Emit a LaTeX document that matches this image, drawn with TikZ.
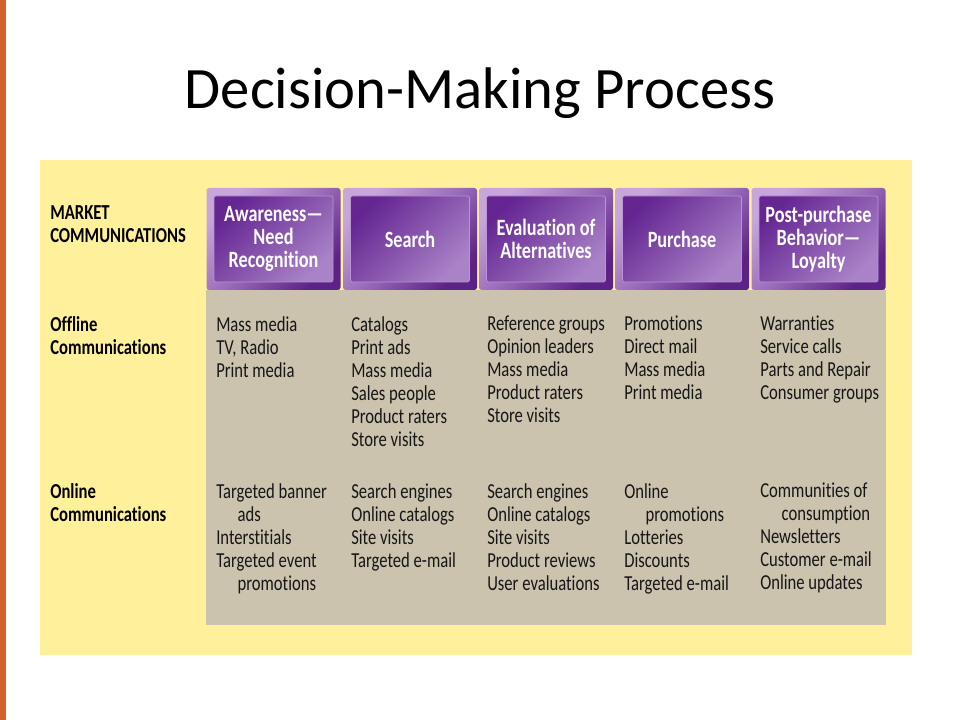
\documentclass[tikz,border=0pt]{standalone}
\usepackage{fontspec}
\setmainfont{Carlito}
\newfontfamily\condfont[FakeStretch=0.78,Ligatures=NoCommon]{Carlito}
\definecolor{slideorange}{HTML}{D5622A}
\definecolor{panelyellow}{HTML}{FFF19B}
\definecolor{panelgrey}{HTML}{CBC3AE}
\definecolor{stagelight}{HTML}{C7A6DC}
\definecolor{stagemid}{HTML}{9A6CBA}
\definecolor{stagedark}{HTML}{5C2285}
\definecolor{stagedeep}{HTML}{652692}
\definecolor{stagesoft}{HTML}{A982C7}
\definecolor{stageedge}{HTML}{B894D2}
\definecolor{textblack}{HTML}{161616}
\newdimen\px \px=0.75pt

\begin{document}
\begin{tikzpicture}[x=0.75pt,y=-0.75pt,
    stageframe/.style={rounded corners=2pt, inner sep=0, minimum width=134\px, minimum height=102\px,
      top color=stagelight, bottom color=stagedark, middle color=stagemid, shading angle=45},
    stagebox/.style={rounded corners=1.5pt, draw=stageedge, line width=0.5pt, inner sep=0,
      minimum width=119\px, minimum height=86\px, top color=stagedeep, bottom color=stagesoft, shading angle=45,
      text=white, align=center, font=\condfont\bfseries\fontsize{17.5}{17.25}\selectfont},
    rowhead/.style={anchor=north west, inner sep=0, align=left, text=black,
      font=\condfont\bfseries\fontsize{16}{17.25}\selectfont, execute at begin node=\strut},
    item/.style={anchor=north west, inner sep=0, align=left, text=textblack,
      font=\condfont\fontsize{16}{17.25}\selectfont, execute at begin node=\strut}]
        \useasboundingbox (0,0) rectangle (960,720);
        \fill[white] (0,0) rectangle (960,720);
        \fill[slideorange] (0,0) rectangle (6,720);
        %title
        \node[anchor=base, font=\fontsize{44}{50}\selectfont] (title) at (480,109) {Decision-Making Process};
        %panels
        \fill[panelyellow] (40,160) rectangle (912,655);
        \fill[panelgrey] (206,290) rectangle (886,625);
        %stages
        \node[stageframe] (aware) at (273.5,239) {};
        \node[stageframe] (search) at (410,239) {};
        \node[stageframe] (eval) at (546,239) {};
        \node[stageframe] (buy) at (682,239) {};
        \node[stageframe] (post) at (818.5,239) {};
        \node[stagebox] (awaretxt) at (aware) {Awareness—\\Need\\Recognition};
        \node[stagebox] (searchtxt) at (search) {Search};
        \node[stagebox] (evaltxt) at (eval) {Evaluation of\\Alternatives};
        \node[stagebox] (buytxt) at (buy) {Purchase};
        \node[stagebox] (posttxt) at (post) {Post-purchase\\Behavior—\\Loyalty};
        %row heads
        \node[rowhead] (market) at (50,205) {MARKET\\COMMUNICATIONS};
        \node[rowhead] (offline) at (50,316) {Offline\\Communications};
        \node[rowhead] (online) at (50,483) {Online\\Communications};
        %offline items
        \node[item] (off1) at (216,316) {Mass media\\TV, Radio\\Print media};
        \node[item] (off2) at (351,316) {Catalogs\\Print ads\\Mass media\\Sales people\\Product raters\\Store visits};
        \node[item] (off3) at (487,316) {Reference groups\\Opinion leaders\\Mass media\\Product raters\\Store visits};
        \node[item] (off4) at (624,316) {Promotions\\Direct mail\\Mass media\\Print media};
        \node[item] (off5) at (760,316) {Warranties\\Service calls\\Parts and Repair\\Consumer groups};
        %online items
        \node[item] (on1) at (216,483) {Targeted banner\\\hspace*{16pt}ads\\Interstitials\\Targeted event\\\hspace*{16pt}promotions};
        \node[item] (on2) at (351,483) {Search engines\\Online catalogs\\Site visits\\Targeted e-mail};
        \node[item] (on3) at (487,483) {Search engines\\Online catalogs\\Site visits\\Product reviews\\User evaluations};
        \node[item] (on4) at (624,483) {Online\\\hspace*{16pt}promotions\\Lotteries\\Discounts\\Targeted e-mail};
        \node[item] (on5) at (760,483) {Communities of\\\hspace*{16pt}consumption\\Newsletters\\Customer e-mail\\Online updates};
\end{tikzpicture}
\end{document}
